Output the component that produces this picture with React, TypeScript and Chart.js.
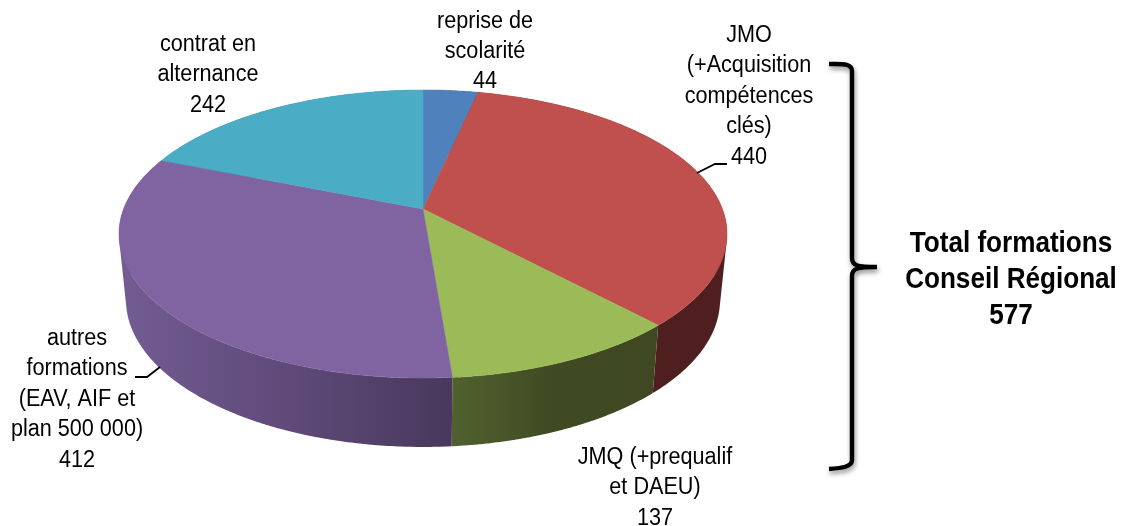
import React, { useEffect, useRef } from "react";
import { Chart, registerables } from "chart.js";

Chart.register(...registerables);

const categories = ["reprise de scolarité", "JMO", "JMQ", "autres formations", "contrat en alternance"];
const values = [44, 440, 137, 412, 242];
const topColors = ["#4F81BD", "#C0504D", "#9BBB59", "#8064A2", "#4BACC6"];
const sideStops: [number, string][][] = [
  [[0, "#2A4563"], [1, "#2A4563"]],
  [[0, "#4F1F1F"], [1, "#4F1F1F"]],
  [[0, "#50612E"], [0.5, "#404A22"], [1, "#3F4821"]],
  [[0, "#725C92"], [0.5, "#5F4A7A"], [1, "#49385C"]],
  [[0, "#286070"], [1, "#286070"]],
];
const sideSpans: [number, number][] = [[423, 480], [600, 730], [452, 655], [120, 452], [160, 423]];

const labelFont = "23px 'Liberation Sans', Arial, sans-serif";
const totalFont = "bold 29px 'Liberation Sans', Arial, sans-serif";
const labelLines: { x: number; y: number; lines: string[] }[] = [
  { x: 485, y: 27.5, lines: ["reprise de", "scolarité", "44"] },
  { x: 749, y: 42, lines: ["JMO", "(+Acquisition", "compétences", "clés)", "440"] },
  { x: 655, y: 464, lines: ["JMQ (+prequalif", "et DAEU)", "137"] },
  { x: 77, y: 345, lines: ["autres", "formations", "(EAV, AIF et", "plan 500 000)", "412"] },
  { x: 208, y: 51, lines: ["contrat en", "alternance", "242"] },
];
const totalLines = ["Total formations", "Conseil Régional", "577"];

// Projection of the round pie on the picture
const K = 0.1736;
const top3d = { cx: 423, cy: 209, a: 299.4, b: 139.7 };
const low3d = { cx: 423, cy: 274.5, a: 292.5, b: 142.5 };
function project(p: typeof top3d, angle: number) {
  const t = angle + Math.PI / 2;
  const u = Math.sin(t);
  const v = -Math.cos(t);
  const w = 1 - K * v;
  return { x: p.cx + (p.a * u) / w, y: p.cy + (p.b * v) / w };
}

const pie3d = {
  id: "pie3d",
  beforeDatasetDraw(chart: any) {
    const ctx: CanvasRenderingContext2D = chart.ctx;
    const arcs = chart.getDatasetMeta(0).data;
    const STEP = 0.01;
    // side walls: every strip wound the same way, filled as one path so no seams show
    arcs.forEach((arc: any, i: number) => {
      const g = ctx.createLinearGradient(sideSpans[i][0], 0, sideSpans[i][1], 0);
      sideStops[i].forEach(([o, c]) => g.addColorStop(o, c));
      ctx.fillStyle = g;
      ctx.beginPath();
      for (let a = arc.startAngle; a < arc.endAngle; a += STEP) {
        const b = Math.min(a + STEP * 1.2, arc.endAngle);
        const pts = [project(top3d, a), project(top3d, b), project(low3d, b), project(low3d, a)];
        let area = 0;
        pts.forEach((p, n) => {
          const q = pts[(n + 1) % 4];
          area += p.x * q.y - q.x * p.y;
        });
        if (area < 0) pts.reverse();
        pts.forEach((p, n) => (n === 0 ? ctx.moveTo(p.x, p.y) : ctx.lineTo(p.x, p.y)));
        ctx.closePath();
      }
      ctx.fill("nonzero");
    });
    // top faces
    arcs.forEach((arc: any) => {
      ctx.beginPath();
      ctx.moveTo(top3d.cx, top3d.cy);
      for (let a = arc.startAngle; a < arc.endAngle; a += STEP) {
        const p = project(top3d, a);
        ctx.lineTo(p.x, p.y);
      }
      const e = project(top3d, arc.endAngle);
      ctx.lineTo(e.x, e.y);
      ctx.closePath();
      ctx.fillStyle = arc.options.backgroundColor;
      ctx.strokeStyle = arc.options.backgroundColor;
      ctx.lineWidth = 0.5;
      ctx.fill();
      ctx.stroke();
    });
    return false;
  },
  afterDatasetsDraw(chart: any) {
    const ctx: CanvasRenderingContext2D = chart.ctx;
    ctx.save();
    // leader lines
    ctx.strokeStyle = "#000";
    ctx.lineWidth = 1.8;
    ctx.beginPath();
    ctx.moveTo(697, 173);
    ctx.lineTo(715, 164);
    ctx.lineTo(727, 164);
    ctx.moveTo(135, 377);
    ctx.lineTo(147, 377);
    ctx.lineTo(160, 367);
    ctx.stroke();
    // labels
    ctx.fillStyle = "#000";
    ctx.textAlign = "center";
    ctx.textBaseline = "alphabetic";
    const drawText = (txt: string, x: number, y: number, sx: number) => {
      ctx.save();
      ctx.translate(x, y);
      ctx.scale(sx, 1);
      ctx.fillText(txt, 0, 0);
      ctx.restore();
    };
    ctx.font = labelFont;
    labelLines.forEach((l) => l.lines.forEach((s, i) => drawText(s, l.x, l.y + i * 30.4, 0.94)));
    ctx.font = totalFont;
    totalLines.forEach((s, i) => drawText(s, 1011, 252 + i * 36, 0.9));
    // bracket
    ctx.shadowColor = "rgba(0,0,0,0.45)";
    ctx.shadowBlur = 5;
    ctx.shadowOffsetX = 1;
    ctx.shadowOffsetY = 3;
    ctx.strokeStyle = "#000";
    ctx.lineWidth = 4.4;
    ctx.lineJoin = "round";
    ctx.lineCap = "butt";
    ctx.beginPath();
    ctx.moveTo(829, 64);
    ctx.bezierCurveTo(842, 64, 852, 63, 852, 71);
    ctx.lineTo(852, 258);
    ctx.bezierCurveTo(852, 266, 858, 267, 877, 267);
    ctx.moveTo(877, 267);
    ctx.bezierCurveTo(858, 267, 852, 268, 852, 276);
    ctx.lineTo(852, 460);
    ctx.bezierCurveTo(852, 467, 842, 468, 829, 469);
    ctx.stroke();
    ctx.restore();
  },
};

export default function App() {
  const ref = useRef<HTMLCanvasElement>(null);
  useEffect(() => {
    const chart = new Chart(ref.current as HTMLCanvasElement, {
      type: "pie",
      data: {
        labels: categories,
        datasets: [{ data: values, backgroundColor: topColors, borderWidth: 0 }],
      },
      options: {
        animation: false,
        responsive: false,
        plugins: { legend: { display: false }, tooltip: { enabled: false } },
      },
      plugins: [pie3d],
    } as any);
    return () => chart.destroy();
  }, []);
  return (
    <div style={{ position: "absolute", left: 0, top: 0, width: 1124, height: 526, background: "#fff" }}>
      <canvas ref={ref} width={1124} height={526} style={{ display: "block" }} />
    </div>
  );
}
